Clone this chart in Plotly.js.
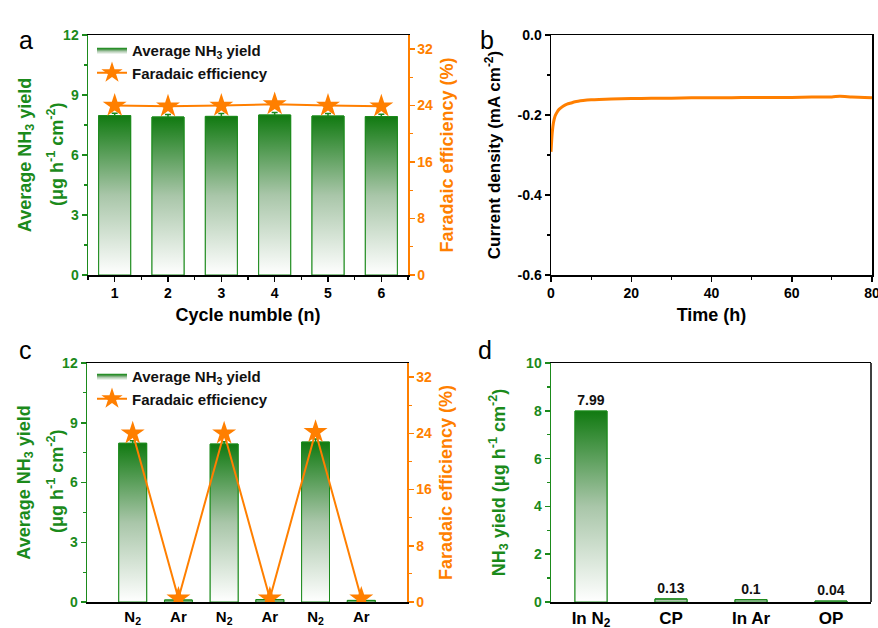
<!DOCTYPE html>
<html>
<head>
<meta charset="utf-8">
<script src="https://cdn.plot.ly/plotly-3.0.1.min.js"></script>
<style>html,body{margin:0;padding:0;background:#fff;}#chart{width:878px;height:628px;}</style>
</head>
<body>
<div id="chart"></div>
<script>
// ---------- data ----------
// panel a: cycling
const cycleNo = [1, 2, 3, 4, 5, 6];
const cycleYield = [7.97, 7.90, 7.93, 8.00, 7.95, 7.92];
const cycleYieldErr = [0.12, 0.12, 0.14, 0.12, 0.12, 0.12];
const cycleFE = [24.0, 23.9, 24.0, 24.2, 24.0, 23.9];

// panel b: chronoamperometry
const timeH = [0, 0.3, 0.6, 1, 1.5, 2, 3, 4, 5, 6, 8, 10, 12, 15, 20, 25, 30, 35, 40, 45, 50, 55, 60, 65, 70, 72, 75, 80];
const currentDensity = [-0.292, -0.245, -0.220, -0.203, -0.193, -0.186, -0.178, -0.173, -0.170, -0.167, -0.164, -0.162, -0.161, -0.160, -0.159, -0.158, -0.158, -0.157, -0.157, -0.157, -0.156, -0.156, -0.156, -0.155, -0.155, -0.153, -0.155, -0.157];
const currentTickVals = [-0.6, -0.4, -0.2, 0];
const currentTickText = ['-0.6', '-0.4', '-0.2', '0.0'];

// panel c: alternating N2 / Ar
const gasX = [1, 2, 3, 4, 5, 6];
const gasLabels = ['N<sub>2</sub>', 'Ar', 'N<sub>2</sub>', 'Ar', 'N<sub>2</sub>', 'Ar'];
const gasYield = [7.97, 0.10, 7.93, 0.12, 8.03, 0.08];
const gasYieldErr = [0.12, 0.03, 0.12, 0.03, 0.15, 0.03];
const gasFE = [24.0, 0.5, 24.0, 0.5, 24.2, 0.5];

// panel d: controls
const ctrlX = [1, 2, 3, 4];
const ctrlLabels = ['In N<sub>2</sub>', 'CP', 'In Ar', 'OP'];
const ctrlYield = [7.99, 0.13, 0.1, 0.04];

// ---------- styles ----------
const G = '#1b8a1b';
const O = '#ff7f00';
const FONT = 'Liberation Sans, Arial, sans-serif';
const gradScale = [[0, '#ffffff'], [0.5, '#a9c6a9'], [1, '#117a11']];
const W = 878, H = 628;
const px = (a, b) => [a / W, b / W];
const py = (top, bot) => [1 - bot / H, 1 - top / H];

const traces = [];

function gradientBars(xs, ys, width, xa, ya, legendRef) {
  xs.forEach((x, i) => {
    const v = ys[i];
    traces.push({
      type: 'scatter', mode: 'lines', xaxis: xa, yaxis: ya,
      x: [x - width / 2, x - width / 2, x + width / 2, x + width / 2, x - width / 2],
      y: [0, v, v, 0, 0],
      fill: 'toself',
      fillgradient: { type: 'vertical', colorscale: gradScale },
      line: { color: G, width: 1 },
      name: 'Average NH<sub>3</sub> yield',
      showlegend: legendRef !== null && i === 0,
      legend: legendRef || 'legend',
      hoverinfo: 'skip'
    });
  });
}

// panel a
traces.push({
  type: 'bar', x: cycleNo, y: cycleYield, xaxis: 'x', yaxis: 'y', width: 0.6,
  marker: { color: 'rgba(0,0,0,0)', line: { color: G, width: 1 } },
  error_y: { type: 'data', array: cycleYieldErr, visible: true, color: G, thickness: 1.5, width: 3 },
  showlegend: false, hoverinfo: 'skip'
});
gradientBars(cycleNo, cycleYield, 0.6, 'x', 'y', 'legend');
traces.push({
  type: 'scatter', mode: 'lines+markers', x: cycleNo, y: cycleFE, xaxis: 'x', yaxis: 'y2',
  line: { color: O, width: 2 },
  marker: { symbol: 'star', size: 18, color: O },
  name: 'Faradaic efficiency', legend: 'legend', showlegend: true, hoverinfo: 'skip'
});

// panel b
traces.push({
  type: 'scatter', mode: 'lines', x: timeH, y: currentDensity, xaxis: 'x2', yaxis: 'y3',
  line: { color: O, width: 3, shape: 'spline', smoothing: 0.6 },
  showlegend: false, hoverinfo: 'skip'
});

// panel c
traces.push({
  type: 'bar', x: gasX, y: gasYield, xaxis: 'x3', yaxis: 'y4', width: 0.61,
  marker: { color: 'rgba(0,0,0,0)', line: { color: G, width: 1 } },
  error_y: { type: 'data', array: gasYieldErr, visible: true, color: G, thickness: 1.5, width: 3 },
  showlegend: false, hoverinfo: 'skip'
});
gradientBars(gasX, gasYield, 0.61, 'x3', 'y4', 'legend2');
traces.push({
  type: 'scatter', mode: 'lines+markers', x: gasX, y: gasFE, xaxis: 'x3', yaxis: 'y5',
  line: { color: O, width: 2 },
  marker: { symbol: 'star', size: 18, color: O },
  name: 'Faradaic efficiency', legend: 'legend2', showlegend: true, hoverinfo: 'skip'
});

// panel d
traces.push({
  type: 'bar', x: ctrlX, y: ctrlYield, xaxis: 'x4', yaxis: 'y6', width: 0.4,
  marker: { color: 'rgba(0,0,0,0)', line: { color: G, width: 1 } },
  text: ctrlYield.map(String), textposition: 'outside', cliponaxis: false,
  textfont: { family: FONT, size: 14, color: '#111', weight: 'bold' },
  showlegend: false, hoverinfo: 'skip'
});
gradientBars(ctrlX, ctrlYield, 0.4, 'x4', 'y6', null);

// ---------- axes ----------
const tf = (c, s) => ({ family: FONT, size: s || 14, color: c, weight: 'bold' });
const ttl = (t, c, s, standoff) => ({ text: t, font: tf(c, s || 17), standoff: standoff });

function baseAxis(color, extra) {
  return Object.assign({
    showline: true, linecolor: color, linewidth: 1.5,
    ticks: 'outside', ticklen: 5, tickwidth: 1.5, tickcolor: color,
    tickfont: tf(color), showgrid: false, zeroline: false, automargin: false, fixedrange: true,
    ticklabeloverflow: 'allow'
  }, extra);
}

const unitText = '(μg h<sup>-1</sup> cm<sup>-2</sup>)';

const layout = {
  width: W, height: H,
  margin: { l: 0, r: 0, t: 0, b: 0 },
  paper_bgcolor: '#fff', plot_bgcolor: '#fff',
  bargap: 0, barmode: 'overlay',
  hovermode: false,
  font: { family: FONT },
  // panel a
  xaxis: baseAxis('#000', {
    domain: px(88, 408), anchor: 'y', range: [0.5, 6.5], tickvals: cycleNo, mirror: true,
    minor: { tickmode: 'linear', tick0: 0.5, dtick: 1, ticks: 'outside', ticklen: 3, tickcolor: '#000', tickwidth: 1.2 },
    title: ttl('Cycle numble (n)', '#000', 18, 8)
  }),
  yaxis: baseAxis(G, {
    domain: py(35, 275), anchor: 'x', range: [0, 12], tickvals: [0, 3, 6, 9, 12],
    minor: { tickmode: 'linear', tick0: 1.5, dtick: 3, ticks: 'outside', ticklen: 3, tickcolor: G, tickwidth: 1.2 },
    title: ttl('Average NH<sub>3</sub> yield', G, 18, 27)
  }),
  yaxis2: baseAxis(O, {
    overlaying: 'y', side: 'right', anchor: 'x', range: [0, 34], tickvals: [0, 8, 16, 24, 32],
    minor: { tickmode: 'linear', tick0: 4, dtick: 8, ticks: 'outside', ticklen: 3, tickcolor: O, tickwidth: 1.2 },
    title: ttl('Faradaic efficiency (%)', O, 18, 8)
  }),
  // panel b
  xaxis2: baseAxis('#000', {
    domain: px(551, 872), anchor: 'y3', range: [0, 80], tickvals: [0, 20, 40, 60, 80], mirror: true,
    minor: { tickmode: 'linear', tick0: 10, dtick: 20, ticks: 'outside', ticklen: 3, tickcolor: '#000', tickwidth: 1.2 },
    title: ttl('Time (h)', '#000', 18, 8)
  }),
  yaxis3: baseAxis('#000', {
    domain: py(35, 275), anchor: 'x2', range: [-0.6, 0], tickvals: currentTickVals, ticktext: currentTickText, mirror: true,
    minor: { tickmode: 'linear', tick0: -0.5, dtick: 0.2, ticks: 'outside', ticklen: 3, tickcolor: '#000', tickwidth: 1.2 },
    title: ttl('Current density (mA cm<sup>-2</sup>)', '#000', 17, 12)
  }),
  // panel c
  xaxis3: baseAxis('#000', {
    domain: px(87, 407), anchor: 'y4', range: [0, 7], tickvals: gasX, ticktext: gasLabels, mirror: true,
    ticks: '', tickfont: tf('#000', 15)
  }),
  yaxis4: baseAxis(G, {
    domain: py(363, 602), anchor: 'x3', range: [0, 12], tickvals: [0, 3, 6, 9, 12],
    minor: { tickmode: 'linear', tick0: 1.5, dtick: 3, ticks: 'outside', ticklen: 3, tickcolor: G, tickwidth: 1.2 },
    title: ttl('Average NH<sub>3</sub> yield', G, 18, 27)
  }),
  yaxis5: baseAxis(O, {
    overlaying: 'y4', side: 'right', anchor: 'x3', range: [0, 34], tickvals: [0, 8, 16, 24, 32],
    minor: { tickmode: 'linear', tick0: 4, dtick: 8, ticks: 'outside', ticklen: 3, tickcolor: O, tickwidth: 1.2 },
    title: ttl('Faradaic efficiency (%)', O, 18, 8)
  }),
  // panel d
  xaxis4: baseAxis('#000', {
    domain: px(551, 871), anchor: 'y6', range: [0.5, 4.5], tickvals: ctrlX, ticktext: ctrlLabels, mirror: true,
    ticks: '', tickfont: tf('#000', 17)
  }),
  yaxis6: baseAxis(G, {
    domain: py(363, 602), anchor: 'x4', range: [0, 10], tickvals: [0, 2, 4, 6, 8, 10],
    minor: { tickmode: 'linear', tick0: 1, dtick: 2, ticks: 'outside', ticklen: 3, tickcolor: G, tickwidth: 1.2 },
    title: ttl('NH<sub>3</sub> yield ' + unitText, G, 18, 16)
  }),
  legend: {
    x: 92 / W, y: 1 - 34 / H, xanchor: 'left', yanchor: 'top',
    bgcolor: 'rgba(0,0,0,0)', font: { family: FONT, size: 15, color: '#111', weight: 'bold' },
    tracegroupgap: 0, itemwidth: 30, traceorder: 'normal'
  },
  legend2: {
    x: 92 / W, y: 1 - 360 / H, xanchor: 'left', yanchor: 'top',
    bgcolor: 'rgba(0,0,0,0)', font: { family: FONT, size: 15, color: '#111', weight: 'bold' },
    tracegroupgap: 0, itemwidth: 30, traceorder: 'normal'
  },
  shapes: [
    { type: 'line', xref: 'x4 domain', yref: 'y6 domain', x0: 1, x1: 1, y0: 0, y1: 1, line: { color: '#000', width: 1.5 } }
  ],
  annotations: [
    { text: 'a', x: 17 / W, y: 1 - 24 / H, xref: 'paper', yref: 'paper', showarrow: false, font: { family: FONT, size: 25, color: '#000' } },
    { text: 'b', x: 487 / W, y: 1 - 24 / H, xref: 'paper', yref: 'paper', showarrow: false, font: { family: FONT, size: 25, color: '#000' } },
    { text: 'c', x: 17 / W, y: 1 - 350 / H, xref: 'paper', yref: 'paper', showarrow: false, font: { family: FONT, size: 25, color: '#000' } },
    { text: 'd', x: 485 / W, y: 1 - 350 / H, xref: 'paper', yref: 'paper', showarrow: false, font: { family: FONT, size: 25, color: '#000' } },
    // second line of the left y-axis titles (a, c)
    { text: unitText, textangle: -90, x: 55 / W, y: 1 - 155 / H, xref: 'paper', yref: 'paper', showarrow: false,
      xanchor: 'center', yanchor: 'middle', font: tf(G, 18) },
    { text: unitText, textangle: -90, x: 55 / W, y: 1 - 482 / H, xref: 'paper', yref: 'paper', showarrow: false,
      xanchor: 'center', yanchor: 'middle', font: tf(G, 18) }
  ]
};

Plotly.newPlot('chart', traces, layout, { displayModeBar: false, staticPlot: true });
</script>
</body>
</html>
